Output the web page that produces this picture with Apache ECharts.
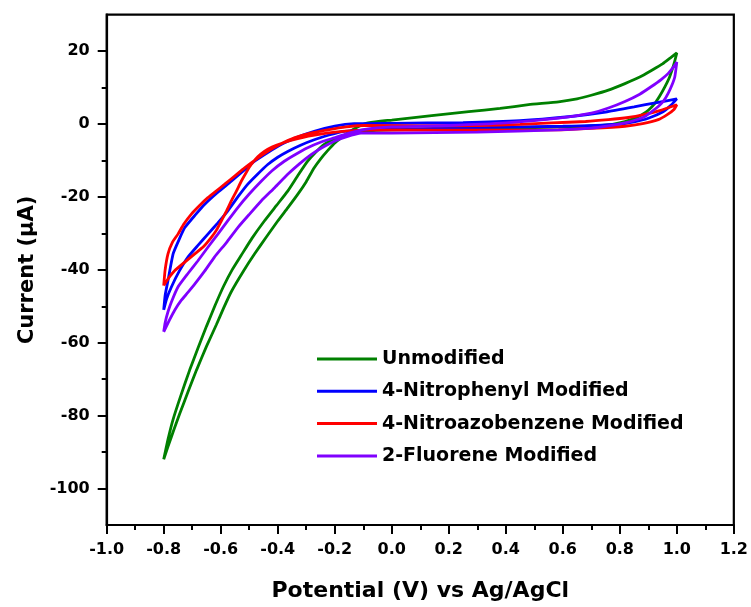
<!DOCTYPE html>
<html>
<head>
<meta charset="utf-8">
<script src="https://cdn.jsdelivr.net/npm/echarts@6.0.0/dist/echarts.min.js"></script>
<style>
  html, body { margin: 0; padding: 0; background: #fff; }
  #chart { width: 751px; height: 607px; }
</style>
</head>
<body>
<div id="chart"></div>
<script>
// ---- data (Potential V, Current µA) ----
const seriesNames = ['Unmodified', '4-Nitrophenyl Modified', '4-Nitroazobenzene Modified', '2-Fluorene Modified'];
const seriesColors = ['#008000', '#0000FF', '#FF0000', '#8000FF'];

const unmodified = [
  [-0.800,-92.0],[-0.785,-88.5],[-0.765,-84.0],[-0.744,-79.5],[-0.715,-73.5],[-0.685,-67.5],[-0.650,-61.0],[-0.615,-55.0],[-0.590,-50.5],[-0.563,-46.0],[-0.520,-40.3],[-0.481,-35.6],[-0.440,-31.0],[-0.400,-26.6],[-0.365,-23.0],[-0.330,-19.3],[-0.300,-15.8],[-0.272,-12.0],[-0.250,-9.6],[-0.225,-7.3],[-0.200,-5.2],[-0.178,-3.8],[-0.150,-2.2],[-0.120,-0.8],[-0.090,0.2],[-0.040,0.8],[0.000,1.1],[0.140,2.3],[0.270,3.4],[0.380,4.3],[0.480,5.3],[0.585,6.1],[0.650,6.9],[0.700,7.9],[0.760,9.3],[0.818,11.1],[0.870,12.9],[0.911,14.7],[0.950,16.5],[0.980,18.3],[1.000,19.5],
  [0.990,16.5],[0.975,13.0],[0.958,10.2],[0.940,7.7],[0.923,5.7],[0.900,3.8],[0.876,2.5],[0.850,1.5],[0.818,0.7],[0.760,-0.2],[0.600,-0.8],[0.400,-1.1],[0.200,-1.3],[0.000,-1.6],[-0.097,-2.0],[-0.140,-2.6],[-0.178,-3.4],[-0.210,-4.4],[-0.237,-5.6],[-0.265,-7.6],[-0.295,-10.2],[-0.330,-14.2],[-0.365,-18.4],[-0.405,-22.4],[-0.447,-26.6],[-0.490,-31.3],[-0.528,-36.0],[-0.560,-40.0],[-0.590,-44.5],[-0.620,-49.8],[-0.650,-55.5],[-0.680,-61.5],[-0.709,-67.5],[-0.740,-74.5],[-0.767,-81.0],[-0.785,-86.5],[-0.800,-92.0]
];

const nitrophenyl = [
  [-0.800,-51.0],[-0.795,-47.0],[-0.785,-42.9],[-0.767,-35.6],[-0.745,-31.5],[-0.726,-28.4],[-0.690,-25.0],[-0.656,-22.0],[-0.610,-18.7],[-0.563,-15.7],[-0.520,-12.8],[-0.481,-10.2],[-0.435,-7.8],[-0.388,-5.6],[-0.330,-3.6],[-0.272,-2.0],[-0.200,-0.6],[-0.132,0.1],[0.000,0.2],[0.250,0.4],[0.450,0.9],[0.620,2.0],[0.750,3.3],[0.850,4.7],[0.930,5.9],[1.000,6.9],
  [0.980,5.2],[0.950,3.3],[0.900,1.6],[0.850,0.6],[0.800,0.0],[0.600,-0.6],[0.300,-1.0],[0.000,-1.4],[-0.167,-2.0],[-0.220,-3.0],[-0.272,-4.3],[-0.320,-5.8],[-0.365,-7.5],[-0.400,-9.1],[-0.435,-11.1],[-0.470,-13.7],[-0.505,-16.5],[-0.540,-20.0],[-0.575,-23.8],[-0.610,-27.1],[-0.645,-30.2],[-0.680,-33.3],[-0.715,-36.5],[-0.745,-40.3],[-0.773,-44.7],[-0.790,-48.0],[-0.800,-51.0]
];

const nitroazobenzene = [
  [-0.800,-44.3],[-0.795,-40.0],[-0.785,-35.6],[-0.770,-32.5],[-0.750,-30.2],[-0.730,-27.5],[-0.703,-24.7],[-0.675,-22.4],[-0.645,-20.2],[-0.615,-18.3],[-0.586,-16.5],[-0.550,-14.2],[-0.516,-12.0],[-0.475,-9.6],[-0.435,-7.5],[-0.390,-5.5],[-0.342,-3.8],[-0.285,-2.5],[-0.225,-1.6],[-0.160,-0.8],[-0.097,-0.4],[0.100,-0.5],[0.300,-0.4],[0.450,-0.1],[0.560,0.3],[0.680,0.7],[0.760,1.2],[0.830,1.8],[0.880,2.5],[0.940,3.7],[1.000,5.3],
  [0.990,4.0],[0.965,2.5],[0.935,1.2],[0.880,0.1],[0.818,-0.6],[0.700,-1.2],[0.585,-1.6],[0.300,-1.7],[0.000,-1.6],[-0.150,-1.9],[-0.260,-2.9],[-0.330,-4.0],[-0.383,-5.2],[-0.420,-6.3],[-0.447,-7.5],[-0.470,-9.0],[-0.493,-11.1],[-0.510,-13.2],[-0.528,-15.7],[-0.545,-18.4],[-0.563,-21.1],[-0.580,-23.9],[-0.598,-26.6],[-0.615,-29.1],[-0.633,-31.1],[-0.660,-33.6],[-0.691,-35.6],[-0.725,-37.8],[-0.761,-40.2],[-0.785,-42.5],[-0.800,-44.3]
];

const fluorene = [
  [-0.800,-57.0],[-0.795,-54.5],[-0.785,-51.5],[-0.773,-48.8],[-0.750,-44.7],[-0.715,-41.0],[-0.680,-37.5],[-0.645,-33.8],[-0.610,-30.2],[-0.575,-26.5],[-0.540,-22.9],[-0.500,-19.2],[-0.458,-15.7],[-0.420,-12.8],[-0.377,-10.2],[-0.335,-8.2],[-0.295,-6.5],[-0.250,-5.0],[-0.202,-3.8],[-0.150,-2.5],[-0.100,-1.5],[0.000,-0.8],[0.200,-0.4],[0.400,0.3],[0.585,1.6],[0.700,3.0],[0.760,4.4],[0.818,6.2],[0.870,8.2],[0.911,10.3],[0.945,12.2],[0.970,13.9],[0.990,15.8],[1.000,17.0],
  [0.993,13.0],[0.983,10.7],[0.970,8.5],[0.955,6.5],[0.935,4.8],[0.910,3.3],[0.888,2.1],[0.855,1.1],[0.818,0.3],[0.760,-0.5],[0.700,-1.1],[0.585,-1.6],[0.300,-2.2],[0.000,-2.5],[-0.108,-2.5],[-0.160,-3.5],[-0.202,-4.7],[-0.245,-6.5],[-0.283,-8.4],[-0.325,-11.0],[-0.365,-13.8],[-0.410,-17.4],[-0.458,-21.1],[-0.500,-24.8],[-0.540,-28.4],[-0.580,-32.5],[-0.622,-36.5],[-0.656,-40.3],[-0.690,-43.8],[-0.715,-46.2],[-0.740,-48.5],[-0.761,-51.0],[-0.780,-53.8],[-0.800,-57.0]
];

// ---- axis ticks ----
const yMajorTicks = [-100, -80, -60, -40, -20, 0, 20];
const yMinorTicks = [-90, -70, -50, -30, -10, 10];
const xMin = -1.0, xMax = 1.2, xStep = 0.2;
const yMin = -110, yMax = 30;

const FONT = 'DejaVu Sans';
const allData = [unmodified, nitrophenyl, nitroazobenzene, fluorene];

const chart = echarts.init(document.getElementById('chart'), null, { renderer: 'canvas' });
chart.setOption({
  animation: false,
  backgroundColor: '#ffffff',
  grid: {
    left: 106.7, right: 15, top: 14.7, bottom: 80,
    show: true, borderColor: '#000', borderWidth: 2.2, backgroundColor: 'transparent'
  },
  legend: {
    data: seriesNames,
    orient: 'vertical',
    left: 317, top: 349,
    padding: 0,
    icon: 'rect',
    itemWidth: 60, itemHeight: 3,
    itemGap: 12.3,
    textStyle: { fontFamily: FONT, fontWeight: 'bold', fontSize: 19, color: '#000', lineHeight: 20 }
  },
  xAxis: {
    type: 'value', min: xMin, max: xMax, interval: xStep,
    name: 'Potential (V) vs Ag/AgCl',
    nameLocation: 'middle', nameGap: 55,
    nameTextStyle: { fontFamily: FONT, fontWeight: 'bold', fontSize: 22, color: '#000' },
    axisLine: { show: true, onZero: false, lineStyle: { color: '#000', width: 2.2 } },
    axisTick: { show: true, inside: false, length: 9, lineStyle: { color: '#000', width: 2 } },
    minorTick: { show: true, splitNumber: 2, length: 5, lineStyle: { color: '#000', width: 2 } },
    splitLine: { show: false },
    axisLabel: {
      margin: 17, fontFamily: FONT, fontWeight: 'bold', fontSize: 16, color: '#000',
      formatter: v => (Math.abs(v) < 1e-9 ? 0 : v).toFixed(1)
    }
  },
  yAxis: [
    {
      type: 'value', min: yMin, max: yMax, interval: 10, position: 'left',
      name: 'Current (\u03bcA)',
      nameLocation: 'middle', nameGap: 69,
      nameTextStyle: { fontFamily: FONT, fontWeight: 'bold', fontSize: 21, color: '#000' },
      axisLine: { show: true, onZero: false, lineStyle: { color: '#000', width: 2.2 } },
      axisTick: { show: true, length: 9, customValues: yMajorTicks, lineStyle: { color: '#000', width: 2 } },
      splitLine: { show: false },
      axisLabel: {
        customValues: yMajorTicks,
        margin: 17, fontFamily: FONT, fontWeight: 'bold', fontSize: 16, color: '#000'
      }
    },
    {
      type: 'value', min: yMin, max: yMax, interval: 10, position: 'left', offset: 0,
      axisLine: { show: false, onZero: false },
      axisTick: { show: true, length: 5, customValues: yMinorTicks, lineStyle: { color: '#000', width: 2 } },
      axisLabel: { show: false },
      splitLine: { show: false }
    }
  ],
  series: seriesNames.map((name, i) => ({
    name: name,
    type: 'line',
    xAxisIndex: 0, yAxisIndex: 0,
    data: allData[i],
    showSymbol: false,
    symbol: 'none',
    smooth: 0.15,
    color: seriesColors[i],
    lineStyle: { color: seriesColors[i], width: 2.8 },
    emphasis: { disabled: true }
  }))
});
</script>
</body>
</html>
